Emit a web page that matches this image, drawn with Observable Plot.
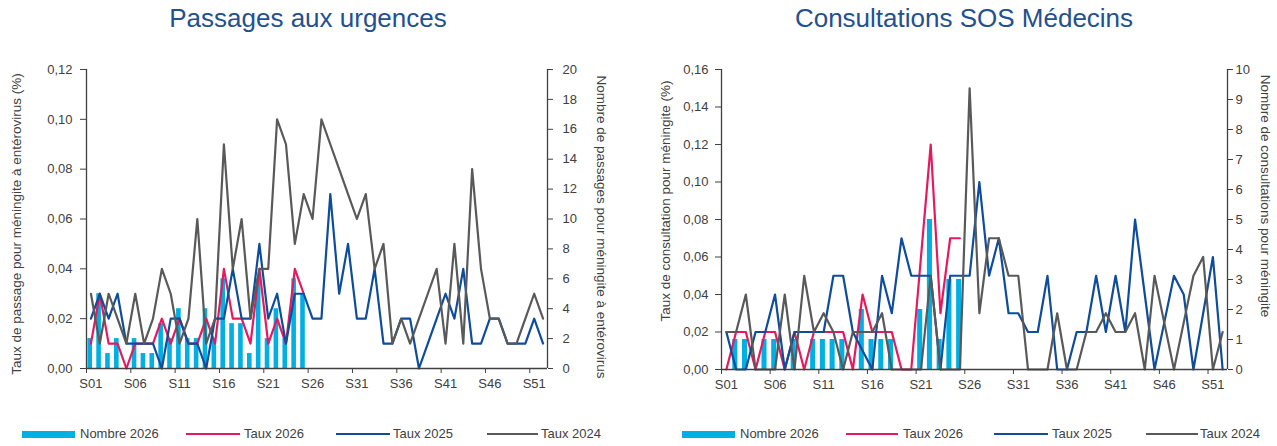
<!DOCTYPE html>
<html>
<head>
<meta charset="utf-8">
<script src="https://cdn.jsdelivr.net/npm/d3@7"></script>
<script src="https://cdn.jsdelivr.net/npm/@observablehq/plot@0.6"></script>
<style>
  html, body { margin: 0; padding: 0; background: #fff; }
  #wrap { position: relative; width: 1277px; height: 446px; overflow: hidden;
          font-family: 'Liberation Sans', Arial, sans-serif; color: #404040; }
  .title { position: absolute; top: 5px; font-size: 26px; line-height: 26px; color: #23508F;
           white-space: nowrap; transform: translateX(-50%); }
  .ytitle { position: absolute; font-size: 13.5px; line-height: 14px; white-space: nowrap; color: #404040; }
  .panel { position: absolute; top: 0; }
  .leg { position: absolute; top: 427px; font-size: 13px; line-height: 14px; white-space: nowrap; color: #404040; }
  .sw { position: absolute; }
</style>
</head>
<body>
<div id="wrap"></div>
<script>
// ---------- data ----------
const tickWeeks = [1, 6, 11, 16, 21, 26, 31, 36, 41, 46, 51];
const seriesNames = ["Nombre 2026", "Taux 2026", "Taux 2025", "Taux 2024"];
const colors = ["#00B0E4", "#E6195F", "#0E4C9C", "#595959"];

// Passages aux urgences
const urgNombre2026 = [2,5,1,2,0,2,1,1,3,2,4,2,2,4,2,6,3,3,1,6,2,4,2,6,5];
const urgTaux2026 = [0.01,0.03,0.01,0.01,0.00,0.01,0.01,0.01,0.02,0.01,0.02,0.01,0.01,0.02,0.01,0.04,0.02,0.02,0.01,0.04,0.01,0.02,0.01,0.04,0.03];
const urgTaux2025 = [0.02,0.03,0.02,0.03,0.01,0.01,0.01,0.01,0.00,0.02,
                     0.02,0.01,0.01,0.00,0.02,0.02,0.04,0.02,0.02,0.05,
                     0.02,0.03,0.01,0.03,0.03,0.02,0.02,0.07,0.03,0.05,
                     0.02,0.02,0.04,0.01,0.01,0.02,0.02,0.00,0.01,0.02,
                     0.03,0.02,0.04,0.01,0.01,0.02,0.02,0.01,0.01,0.01,
                     0.02,0.01];
const urgTaux2024 = [0.03,0.01,0.03,0.02,0.01,0.03,0.01,0.02,0.04,0.03,
                     0.01,0.02,0.06,0.01,0.02,0.09,0.04,0.06,0.02,0.04,
                     0.04,0.10,0.09,0.05,0.07,0.06,0.10,0.09,0.08,0.07,
                     0.06,0.07,0.04,0.05,0.01,0.02,0.01,0.02,0.03,0.04,
                     0.01,0.05,0.01,0.08,0.04,0.02,0.02,0.01,0.01,0.02,
                     0.03,0.02];

// Consultations SOS Médecins
const sosNombre2026 = [0,1,1,0,1,1,0,1,0,1,1,1,1,0,2,1,1,1,0,0,2,5,1,3,3];
const sosTaux2026 = [0,0.02,0.02,0,0.02,0.02,0,0.02,0,0.02,0.02,0.02,0.02,0,0.04,0.02,0.02,0.02,0,0,0.06,0.12,0.03,0.07,0.07];
const sosTaux2025 = [0.02,0,0,0.02,0.02,0.04,0,0.02,0.02,0.02,
                     0.02,0.05,0.05,0.02,0.01,0,0.05,0.03,0.07,0.05,
                     0.05,0.05,0,0.05,0.05,0.05,0.10,0.05,0.07,0.03,
                     0.03,0.02,0.02,0.05,0,0,0.02,0.02,0.05,0.02,
                     0.05,0.02,0.08,0.04,0,0.025,0.05,0.04,0,0.03,
                     0.06,0];
const sosTaux2024 = [0.02,0.02,0.04,0,0,0,0.04,0,0.05,0.02,
                     0.03,0.02,0,0.02,0.02,0.02,0.03,0,0,0,
                     0,0.05,0,0,0,0.15,0.03,0.07,0.07,0.05,
                     0.05,0,0,0,0.03,0,0,0.02,0.02,0.03,
                     0.02,0.02,0.03,0,0.05,0.025,0,0.025,0.05,0.06,
                     0,0.02];

// ---------- drawing ----------
const fmtRate = d => d.toFixed(2).replace(".", ",");
const rows = arr => arr.map((v, i) => ({week: i + 1, value: v}));
const axisColor = "#404040";

function panel(o) {
  const k = o.yMax / o.nMax;
  return Plot.plot({
    width: 640, height: 400,
    marginTop: 69, marginBottom: o.marginBottom, marginLeft: o.marginLeft, marginRight: o.marginRight,
    style: {fontFamily: "'Liberation Sans', Arial, sans-serif", fontSize: "13px", color: axisColor, background: "transparent", overflow: "visible"},
    x: {type: "linear", domain: [0.5, 52.5], label: null},
    y: {domain: [0, o.yMax], label: null},
    marks: [
      Plot.rect(rows(o.count), {x1: d => d.week - 0.34, x2: d => d.week + 0.18, y1: () => 0, y2: d => d.value * k, fill: colors[0]}),
      Plot.line(rows(o.t26), {x: "week", y: "value", stroke: colors[1], strokeWidth: 2.2}),
      Plot.line(rows(o.t25), {x: "week", y: "value", stroke: colors[2], strokeWidth: 2.2}),
      Plot.line(rows(o.t24), {x: "week", y: "value", stroke: colors[3], strokeWidth: 2.2}),
      Plot.ruleY([0], {stroke: axisColor, strokeWidth: 1.3}),
      Plot.ruleX([0.5, 52.5], {stroke: axisColor, strokeWidth: 1.3}),
      Plot.axisY({anchor: "left", ticks: d3.range(0, o.yMax + 1e-9, o.yStep), tickFormat: fmtRate, tickSize: 6, tickPadding: o.leftPad, label: null}),
      Plot.axisY({anchor: "right", ticks: d3.range(0, o.nMax + 1e-9, o.nStep).map(n => n * k), tickFormat: d => String(Math.round(d / k)), tickSize: 5, tickPadding: o.rightPad, label: null}),
      Plot.axisX({ticks: tickWeeks.map(w => w - 0.5), tickFormat: () => "", tickSize: 5, label: null}),
      Plot.axisX({ticks: tickWeeks, tickFormat: w => "S" + String(Math.round(w)).padStart(2, "0"), tickSize: 0, tickPadding: 10, label: null})
    ]
  });
}

const wrap = document.getElementById("wrap");

function addPanel(left, svg) {
  const d = document.createElement("div");
  d.className = "panel";
  d.style.left = left + "px";
  d.appendChild(svg);
  wrap.appendChild(d);
}

addPanel(0, panel({count: urgNombre2026, t26: urgTaux2026, t25: urgTaux2025, t24: urgTaux2024,
  yMax: 0.12, yStep: 0.02, nMax: 20, nStep: 2, marginLeft: 86, marginRight: 93, marginBottom: 32, leftPad: 8, rightPad: 10}));
addPanel(637, panel({count: sosNombre2026, t26: sosTaux2026, t25: sosTaux2025, t24: sosTaux2024,
  yMax: 0.16, yStep: 0.02, nMax: 10, nStep: 1, marginLeft: 84, marginRight: 50, marginBottom: 31, leftPad: 7, rightPad: 3}));

function addText(cls, text, css) {
  const d = document.createElement("div");
  d.className = cls;
  d.textContent = text;
  Object.assign(d.style, css);
  wrap.appendChild(d);
  return d;
}

addText("title", "Passages aux urgences", {left: "308px"});
addText("title", "Consultations SOS Médecins", {left: "964px"});

function yTitle(text, cx, cy, rot) {
  addText("ytitle", text, {left: cx + "px", top: cy + "px", transform: `translate(-50%,-50%) rotate(${rot}deg)`});
}
yTitle("Taux de passage pour méningite à entérovirus (%)", 17, 224, -90);
yTitle("Nombre de passages pour méningite à entérovirus", 601, 227, 90);
yTitle("Taux de consultation pour méningite (%)", 666, 201, -90);
yTitle("Nombre de consultations pour méningite", 1265, 196, 90);

// legends
function legend(x0, positions) {
  positions.forEach((p, i) => {
    const sw = document.createElement("div");
    sw.className = "sw";
    sw.style.left = (x0 + p.sx) + "px";
    sw.style.width = p.sw + "px";
    sw.style.background = colors[i];
    if (i === 0) { sw.style.top = "431px"; sw.style.height = "7px"; }
    else { sw.style.top = "433px"; sw.style.height = "2.2px"; }
    wrap.appendChild(sw);
    addText("leg", seriesNames[i], {left: (x0 + p.tx) + "px"});
  });
}
legend(0, [{sx: 22, sw: 53, tx: 80}, {sx: 186, sw: 54, tx: 244}, {sx: 336, sw: 54, tx: 393}, {sx: 487, sw: 51, tx: 541}]);
legend(0, [{sx: 682, sw: 53, tx: 740}, {sx: 846, sw: 52, tx: 903}, {sx: 994, sw: 54, tx: 1052}, {sx: 1146, sw: 52, tx: 1200}]);
</script>
</body>
</html>
